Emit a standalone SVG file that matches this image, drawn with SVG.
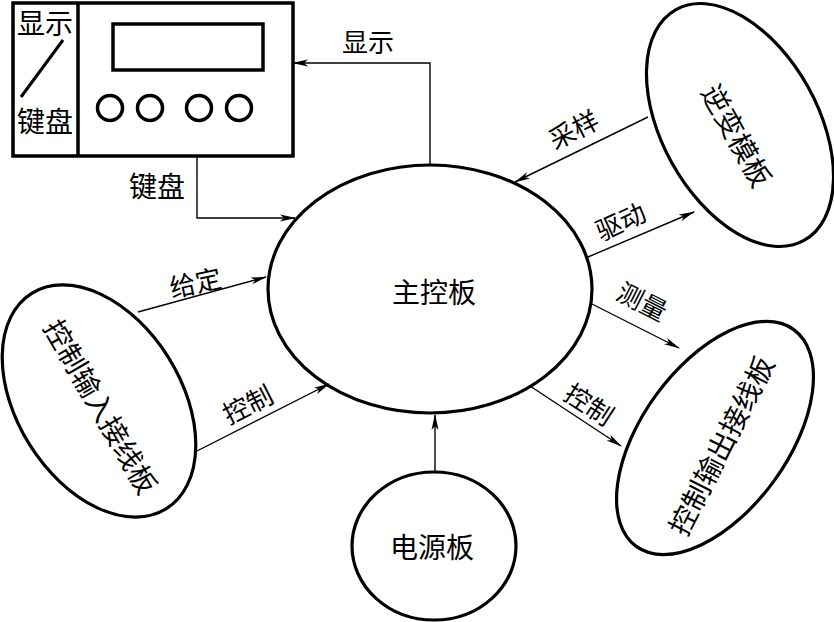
<svg xmlns="http://www.w3.org/2000/svg" width="834" height="622" viewBox="0 0 834 622">
<style>
.bg{fill:#fff}
.node{fill:#fff;stroke:#000;stroke-width:3.2}
.box{fill:none;stroke:#000;stroke-width:3.5}
.conn{fill:none;stroke:#000;stroke-width:1.4}
text{font-family:"Noto Sans CJK SC","Noto Sans CJK JP",sans-serif;fill:#000;text-anchor:middle;dominant-baseline:central}
.lbl{font-size:26px}
.big{font-size:28px}
</style>
<defs>
<marker id="arr" viewBox="0 0 16 8" markerWidth="16" markerHeight="8" refX="15" refY="4" orient="auto" markerUnits="userSpaceOnUse">
<path d="M0,0.5 L16,4 L0,7.5 L4,4 Z" fill="#000"/>
</marker>
</defs>
<rect class="bg" x="0" y="0" width="834" height="622"/>
<g id="display-keyboard">
<rect class="box" x="13" y="3" width="280" height="153"/>
<line class="box" x1="78" y1="3" x2="78" y2="156"/>
<rect class="box" x="113" y="24" width="150" height="46" stroke-width="3"/>
<circle class="box" cx="110" cy="108" r="12.5" stroke-width="3"/>
<circle class="box" cx="150" cy="108" r="12.5" stroke-width="3"/>
<circle class="box" cx="199" cy="108" r="12.5" stroke-width="3"/>
<circle class="box" cx="239" cy="108" r="12.5" stroke-width="3"/>
<text x="45" y="22" style="font-size:28px">显示</text>
<line x1="63" y1="40" x2="21" y2="97" stroke="#000" stroke-width="3"/>
<text x="45" y="120" style="font-size:28px">键盘</text>
</g>
<g id="main">
<ellipse class="node" cx="430" cy="289" rx="162" ry="124"/>
<text class="big" x="434" y="291">主控板</text>
</g>
<g id="inverter">
<ellipse class="node" cx="740" cy="125" rx="78" ry="132" transform="rotate(-29 740 125)"/>
<text class="big" transform="translate(738 135) rotate(61)">逆变模板</text>
</g>
<g id="ctrl-input">
<ellipse class="node" cx="99" cy="401" rx="82" ry="127" transform="rotate(-32 99 401)"/>
<text class="big" transform="translate(102 406) rotate(60)">控制输入接线板</text>
</g>
<g id="ctrl-output">
<ellipse class="node" cx="715" cy="438" rx="73" ry="134" transform="rotate(36 715 438)"/>
<text class="big" transform="translate(720 445) rotate(-63)">控制输出接线板</text>
</g>
<g id="power">
<ellipse class="node" cx="434" cy="546" rx="82" ry="74"/>
<text class="big" x="432" y="546">电源板</text>
</g>
<g id="connectors">
<polyline class="conn" points="430,165 430,63 293,63" marker-end="url(#arr)"/>
<text class="lbl" x="368" y="40">显示</text>
<polyline class="conn" points="197,156 197,218 295,218" marker-end="url(#arr)"/>
<text class="big" x="157" y="185">键盘</text>
<line class="conn" x1="648" y1="117" x2="515" y2="182" marker-end="url(#arr)"/>
<text class="lbl" transform="translate(573 128) rotate(-27)">采样</text>
<line class="conn" x1="588" y1="257" x2="694" y2="212" marker-end="url(#arr)"/>
<text class="lbl" transform="translate(620 220) rotate(-25)">驱动</text>
<line class="conn" x1="138" y1="312" x2="266" y2="277" marker-end="url(#arr)"/>
<text class="lbl" transform="translate(195 281) rotate(-12)">给定</text>
<line class="conn" x1="195" y1="452" x2="329" y2="384" marker-end="url(#arr)"/>
<text class="lbl" transform="translate(247 403) rotate(-27)">控制</text>
<line class="conn" x1="590" y1="303" x2="679" y2="348" marker-end="url(#arr)"/>
<text class="lbl" transform="translate(643 300) rotate(27)">测量</text>
<line class="conn" x1="530" y1="386" x2="621" y2="446" marker-end="url(#arr)"/>
<text class="lbl" transform="translate(590 403) rotate(33)">控制</text>
<line class="conn" x1="435" y1="472" x2="435" y2="415" marker-end="url(#arr)"/>
</g>
</svg>
